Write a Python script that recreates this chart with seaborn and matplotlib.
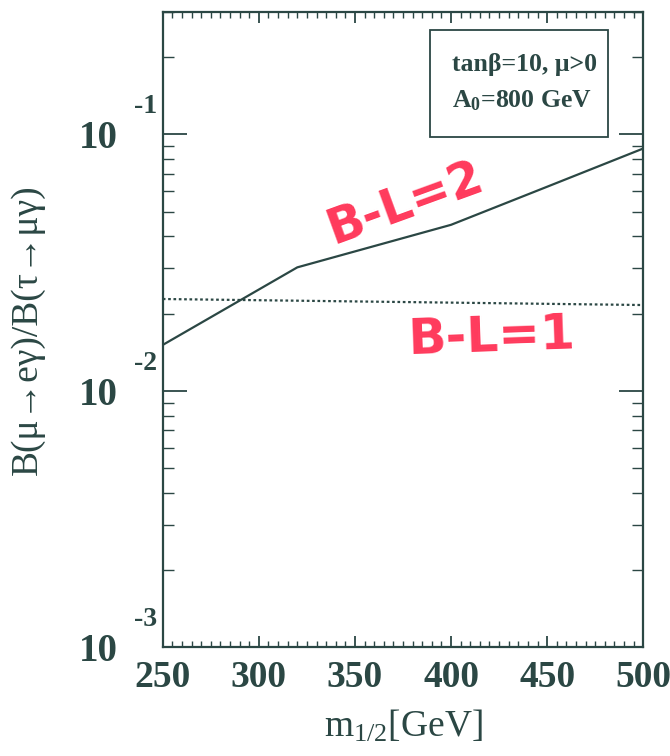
import numpy as np
import pandas as pd
import seaborn as sns
import matplotlib
matplotlib.use("Agg")
import matplotlib.pyplot as plt
import matplotlib.ticker as mticker
import matplotlib.transforms as mtrans
from matplotlib.patches import Rectangle

m_half_bl2 = [250, 320, 400, 450, 500]
ratio_bl2 = [0.0151, 0.0303, 0.0444, 0.0625, 0.0881]
m_half_bl1 = [250, 500]
ratio_bl1 = [0.0228, 0.0216]
x_ticks = [250, 300, 350, 400, 450, 500]
y_decades = [1e-3, 1e-2, 1e-1]
y_exponents = ["-3", "-2", "-1"]

ink = "#2b4744"
red = "#ff3a5c"

sns.set_theme(style="ticks")
plt.rcParams["font.family"] = ["Liberation Serif", "DejaVu Serif"]
plt.rcParams["mathtext.fontset"] = "custom"
plt.rcParams["mathtext.rm"] = "Liberation Serif"
plt.rcParams["mathtext.it"] = "Liberation Serif"
plt.rcParams["mathtext.bf"] = "Liberation Serif:bold"

df2 = pd.DataFrame({"m": m_half_bl2, "r": ratio_bl2})
df1 = pd.DataFrame({"m": m_half_bl1, "r": ratio_bl1})

fig = plt.figure(figsize=(6.7, 7.56), dpi=100)
ax = fig.add_axes([0.243, 0.144, 0.717, 0.84])

sns.lineplot(data=df2, x="m", y="r", ax=ax, color=ink, lw=1.6)
sns.lineplot(data=df1, x="m", y="r", ax=ax, color=ink, lw=1.6, linestyle=(0, (1.2, 1.2)))

ax.set_yscale("log")
ax.set_xlim(250, 500)
ax.set_ylim(1e-3, 0.3)

for s in ax.spines.values():
    s.set_color(ink)
    s.set_linewidth(1.6)

ax.set_xticks(x_ticks)
ax.xaxis.set_minor_locator(mticker.MultipleLocator(5))
ax.set_xticklabels([str(v) for v in x_ticks], fontsize=27, fontweight="bold", color=ink)
ax.yaxis.set_major_locator(mticker.FixedLocator(y_decades))
ax.yaxis.set_minor_locator(mticker.LogLocator(base=10, subs=np.arange(2, 10)))
ax.yaxis.set_minor_formatter(mticker.NullFormatter())
ax.set_yticklabels(["10"] * len(y_decades), fontsize=28, fontweight="bold", color=ink)

ax.tick_params(axis="x", which="major", direction="in", length=8, width=1.3, color=ink,
               top=True, pad=9)
ax.tick_params(axis="x", which="minor", direction="in", length=4, width=1.0, color=ink, top=True)
ax.tick_params(axis="y", which="major", direction="in", length=17, width=1.3, color=ink,
               right=True, pad=32)
ax.tick_params(axis="y", which="minor", direction="in", length=8, width=1.0, color=ink, right=True)

# raised exponents beside the "10" labels
shift = mtrans.ScaledTranslation(0, 0.15, fig.dpi_scale_trans)
trans = mtrans.blended_transform_factory(ax.transAxes, ax.transData) + shift
for yv, ex in zip(y_decades, y_exponents):
    ax.text(-0.012, yv, ex, transform=trans, fontsize=20, fontweight="bold", color=ink,
            ha="right", va="bottom")

ax.set_xlabel(r"m$_{1/2}$[GeV]", fontsize=27, color=ink, labelpad=10)
ax.set_ylabel("B(μ→eγ)/B(τ→μγ)", fontsize=27, color=ink)
ax.yaxis.set_label_coords(-0.246, 0.5)

ax.add_patch(Rectangle((0.556, 0.803), 0.371, 0.169, transform=ax.transAxes,
                       fill=False, ec=ink, lw=1.3))
ax.text(0.602, 0.917, "tanβ=10, μ>0", transform=ax.transAxes, ha="left", va="center",
        fontsize=18.5, fontweight="bold", color=ink)
ax.text(0.602, 0.861, r"A$_\mathbf{0}$=800 GeV", transform=ax.transAxes, ha="left",
        va="center", fontsize=18.5, fontweight="bold", color=ink)

ax.text(0.504, 0.70, "B-L=2", transform=ax.transAxes, ha="center", va="center",
        fontsize=35, fontweight="bold", color=red, rotation=20,
        fontfamily=["DejaVu Sans"])
ax.text(0.685, 0.488, "B-L=1", transform=ax.transAxes, ha="center", va="center",
        fontsize=36, fontweight="bold", color=red, rotation=2,
        fontfamily=["DejaVu Sans"])

fig.savefig("out.png", dpi=100)
